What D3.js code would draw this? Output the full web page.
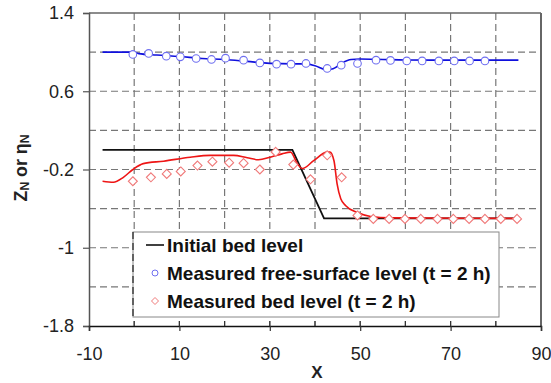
<!DOCTYPE html>
<html>
<head>
<meta charset="utf-8">
<script src="https://cdn.jsdelivr.net/npm/d3@7"></script>
<style>
  body { margin: 0; background: #fff; }
  text { font-family: "Liberation Sans", Arial, sans-serif; }
</style>
</head>
<body>
<svg id="chart"></svg>
<script>
// initial bed level
const bedX = [-7, 35, 42, 85];
const bedZ = [0, 0, -0.7, -0.7];

// computed free surface (blue line)
const surfX = [-7, 0, 1, 5, 10, 15, 20, 25, 30, 35, 38, 40, 42.5, 44, 46, 48, 50, 55, 60, 70, 85];
const surfZ = [1.0, 1.0, 0.985, 0.97, 0.955, 0.935, 0.925, 0.905, 0.885, 0.88, 0.88, 0.86, 0.82, 0.83, 0.89, 0.925, 0.93, 0.925, 0.92, 0.918, 0.918];

// measured free surface (circles)
const obsSurfX = [-0.3, 3.2, 7.1, 10.2, 13.7, 17.1, 20.2, 24.2, 27.8, 31.5, 34.7, 38.0, 42.7, 45.8, 49.4, 53.5, 56.7, 60.3, 63.7, 67.4, 70.8, 74.2, 77.6];
const obsSurfZ = [0.976, 0.987, 0.959, 0.952, 0.935, 0.925, 0.938, 0.918, 0.89, 0.877, 0.877, 0.884, 0.833, 0.867, 0.884, 0.918, 0.915, 0.91, 0.91, 0.91, 0.91, 0.91, 0.91];

// computed bed (red line)
const calcBedX = [-7, -4.6, -2.4, -0.3, 2, 6.5, 12.4, 16.8, 22, 25, 27.5, 30.1, 32.7, 34.6, 36.1, 37.2, 39.7, 42.7, 43.3, 44.2, 44.9, 45.7, 46.8, 49.4, 52.3, 56.7, 85];
const calcBedZ = [-0.32, -0.33, -0.28, -0.2, -0.14, -0.115, -0.074, -0.056, -0.056, -0.08, -0.1, -0.074, -0.04, -0.022, -0.14, -0.19, -0.11, -0.022, -0.022, -0.11, -0.35, -0.5, -0.57, -0.64, -0.68, -0.695, -0.7];

// measured bed (diamonds)
const obsBedX = [-0.3, 3.7, 7.2, 10.3, 14.0, 17.3, 21.0, 24.2, 27.8, 31.3, 35.2, 39.0, 42.7, 45.9, 49.4, 52.9, 56.4, 59.9, 63.4, 67.1, 70.6, 74.1, 77.6, 81.1, 84.7];
const obsBedZ = [-0.32, -0.28, -0.245, -0.22, -0.16, -0.12, -0.13, -0.135, -0.2, -0.02, -0.15, -0.30, -0.055, -0.28, -0.67, -0.705, -0.705, -0.705, -0.705, -0.705, -0.705, -0.705, -0.705, -0.705, -0.705];

const xLabels = [-10, 10, 30, 50, 70, 90];
const xGrid = [0, 10, 20, 30, 40, 50, 60, 70, 80];
const yLabels = [1.4, 0.6, -0.2, -1, -1.8];
const yGrid = [1.0, 0.6, 0.2, -0.2, -0.6, -1.0, -1.4];

const legendItems = ["Initial bed level", "Measured free-surface level (t = 2 h)", "Measured bed level (t = 2 h)"];

const width = 551, height = 383;
const margins = { top: 13, right: 10, bottom: 57, left: 89 };
const svg = d3.select("#chart").attr("width", width).attr("height", height);

const xScale = d3.scaleLinear().domain([-10, 90]).range([margins.left, width - margins.right]);
const yScale = d3.scaleLinear().domain([-1.8, 1.4]).range([height - margins.bottom, margins.top]);

const x0 = xScale(-10), x1 = xScale(90), y0 = yScale(-1.8), y1 = yScale(1.4);

// grid
svg.append("g").selectAll("line").data(xGrid).join("line")
    .attr("x1", d => xScale(d)).attr("x2", d => xScale(d))
    .attr("y1", y1).attr("y2", y0)
    .attr("stroke", "#777").attr("stroke-width", 1.2).attr("stroke-dasharray", "7,4");
svg.append("g").selectAll("line").data(yGrid).join("line")
    .attr("x1", x0).attr("x2", x1)
    .attr("y1", d => yScale(d)).attr("y2", d => yScale(d))
    .attr("stroke", "#777").attr("stroke-width", 1.2).attr("stroke-dasharray", "7,4");

// frame
svg.append("line").attr("x1", x0).attr("x2", x1).attr("y1", y1).attr("y2", y1).attr("stroke", "#666").attr("stroke-width", 1.5);
svg.append("line").attr("x1", x1).attr("x2", x1).attr("y1", y1).attr("y2", y0).attr("stroke", "#666").attr("stroke-width", 2);

// axes (plain hyphen minus like the original)
const fmt = d => String(d);
const yAxis = d3.axisLeft(yScale).tickValues(yLabels).tickSize(6).tickPadding(9).tickFormat(fmt);
const gy = svg.append("g").attr("transform", `translate(${x0},0)`).call(yAxis);
gy.select(".domain").attr("stroke", "#555").attr("stroke-width", 1.5);
gy.selectAll(".tick line").attr("stroke", "#555").attr("stroke-width", 1.2);
gy.selectAll(".tick text").attr("font-size", 18).attr("fill", "#222").attr("font-family", "Liberation Sans, Arial, sans-serif");

const xAxis = d3.axisBottom(xScale).tickValues(xLabels).tickSize(5).tickPadding(16).tickFormat(fmt);
const gx = svg.append("g").attr("transform", `translate(0,${y0})`).call(xAxis);
gx.select(".domain").attr("stroke", "#111").attr("stroke-width", 1.5);
gx.selectAll(".tick line").attr("stroke", "#333").attr("stroke-width", 1.2);
gx.selectAll(".tick text").attr("font-size", 18).attr("fill", "#222").attr("font-family", "Liberation Sans, Arial, sans-serif");

// inner minor ticks on bottom axis
svg.append("g").selectAll("line").data(xGrid).join("line")
    .attr("x1", d => xScale(d)).attr("x2", d => xScale(d))
    .attr("y1", y0).attr("y2", y0 - 5)
    .attr("stroke", "#333").attr("stroke-width", 1.2);

// lines
const zip = (a, b) => a.map((v, i) => [v, b[i]]);
const smooth = d3.line().curve(d3.curveMonotoneX).x(d => xScale(d[0])).y(d => yScale(d[1]));
const straight = d3.line().x(d => xScale(d[0])).y(d => yScale(d[1]));

const plot = svg.append("g");
plot.append("path").datum(zip(surfX, surfZ)).attr("fill", "none").attr("stroke", "#1010dd").attr("stroke-width", 1.6).attr("d", smooth);
plot.append("path").datum(zip(bedX, bedZ)).attr("fill", "none").attr("stroke", "#111").attr("stroke-width", 1.8).attr("d", straight);
plot.append("path").datum(zip(calcBedX, calcBedZ)).attr("fill", "none").attr("stroke", "#ee1515").attr("stroke-width", 1.6).attr("d", smooth);

// markers
plot.append("g").selectAll("circle").data(zip(obsSurfX, obsSurfZ)).join("circle")
    .attr("cx", d => xScale(d[0])).attr("cy", d => yScale(d[1])).attr("r", 3.8)
    .attr("fill", "#fff").attr("stroke", "#6f6ff0").attr("stroke-width", 1.1);
plot.append("g").selectAll("path").data(zip(obsBedX, obsBedZ)).join("path")
    .attr("transform", d => `translate(${xScale(d[0])},${yScale(d[1])})`)
    .attr("d", "M0,-4.5L4.5,0L0,4.5L-4.5,0Z")
    .attr("fill", "#fff").attr("stroke", "#f07a7a").attr("stroke-width", 1.1);

// legend
const lg = svg.append("g").attr("transform", "translate(133,232)");
lg.append("rect").attr("width", 366).attr("height", 85).attr("fill", "#fff").attr("stroke", "#888").attr("stroke-width", 1);
lg.append("line").attr("x1", 0).attr("x2", 0).attr("y1", 0).attr("y2", 85).attr("stroke", "#222").attr("stroke-width", 1.2).attr("stroke-dasharray", "7,4");
lg.append("line").attr("x1", 13).attr("x2", 31).attr("y1", 13).attr("y2", 13).attr("stroke", "#111").attr("stroke-width", 1.6);
lg.append("circle").attr("cx", 22).attr("cy", 41).attr("r", 3).attr("fill", "#fff").attr("stroke", "#6f6ff0").attr("stroke-width", 1);
lg.append("path").attr("transform", "translate(22,69)").attr("d", "M0,-3.5L3.5,0L0,3.5L-3.5,0Z").attr("fill", "#fff").attr("stroke", "#f07a7a").attr("stroke-width", 1);
lg.selectAll("text.lab").data(legendItems).join("text").attr("class", "lab")
    .attr("x", 34).attr("y", (d, i) => 20 + i * 28)
    .attr("font-size", 19).attr("font-weight", "bold").attr("fill", "#111")
    .text(d => d);

// axis titles
svg.append("text").attr("x", 317).attr("y", 378).attr("text-anchor", "middle")
    .attr("font-family", "Liberation Serif, Times New Roman, serif").attr("font-size", 17).attr("font-weight", "bold").attr("fill", "#222").text("X");

const yt = svg.append("text").attr("text-anchor", "middle")
    .attr("font-size", 19).attr("font-weight", "bold").attr("fill", "#222");
yt.append("tspan").text("Z");
yt.append("tspan").attr("font-size", 13).attr("dy", 2).text("N");
yt.append("tspan").attr("dy", -2).text(" or ");
yt.append("tspan").text("η");
yt.append("tspan").attr("font-size", 13).attr("dy", 2).text("N");
// the original title is drawn stretched along its length
const natural = yt.node().getComputedTextLength();
yt.attr("transform", `translate(27,168) rotate(-90) scale(${67 / natural},1)`);
</script>
</body>
</html>
